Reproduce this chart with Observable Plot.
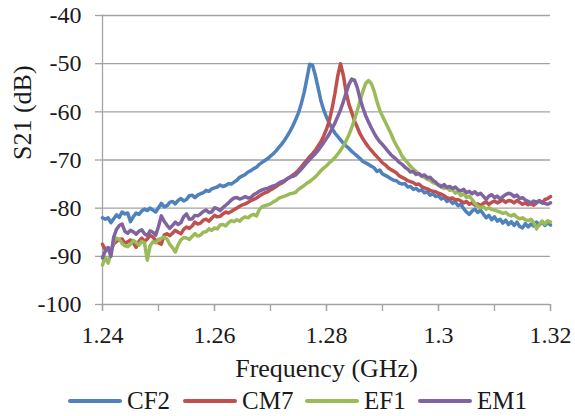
<!DOCTYPE html>
<html>
<head>
<meta charset="utf-8">
<script src="https://cdn.jsdelivr.net/npm/d3@7"></script>
<script src="https://cdn.jsdelivr.net/npm/@observablehq/plot@0.6"></script>
<style>
  html, body { margin: 0; padding: 0; background: #fff; }
  #wrap { width: 575px; height: 416px; position: relative; font-family: "Liberation Serif", "Times New Roman", serif; color: #1a1a1a; }
  #legend { position: relative; height: 31px; font-size: 25px; }
  .item { position: absolute; top: 0; height: 31px; display: flex; align-items: center; }
  .item svg { margin-right: 5px; }
</style>
</head>
<body>
<div id="wrap"><div id="chart"></div><div id="legend"></div></div>
<script>
const freq = [
1.24,1.2405,1.241,1.2415,1.242,1.2425,1.243,1.2435,1.244,1.2445,
1.245,1.2455,1.246,1.2465,1.247,1.2475,1.248,1.2485,1.249,1.2495,
1.25,1.2505,1.251,1.2515,1.252,1.2525,1.253,1.2535,1.254,1.2545,
1.255,1.2555,1.256,1.2565,1.257,1.2575,1.258,1.2585,1.259,1.2595,
1.26,1.2605,1.261,1.2615,1.262,1.2625,1.263,1.2635,1.264,1.2645,
1.265,1.2655,1.266,1.2665,1.267,1.2675,1.268,1.2685,1.269,1.2695,
1.27,1.2705,1.271,1.2715,1.272,1.2725,1.273,1.2735,1.274,1.2745,
1.275,1.2755,1.276,1.2765,1.277,1.2775,1.278,1.2785,1.279,1.2795,
1.28,1.2805,1.281,1.2815,1.282,1.2825,1.283,1.2835,1.284,1.2845,
1.285,1.2855,1.286,1.2865,1.287,1.2875,1.288,1.2885,1.289,1.2895,
1.29,1.2905,1.291,1.2915,1.292,1.2925,1.293,1.2935,1.294,1.2945,
1.295,1.2955,1.296,1.2965,1.297,1.2975,1.298,1.2985,1.299,1.2995,
1.3,1.3005,1.301,1.3015,1.302,1.3025,1.303,1.3035,1.304,1.3045,
1.305,1.3055,1.306,1.3065,1.307,1.3075,1.308,1.3085,1.309,1.3095,
1.31,1.3105,1.311,1.3115,1.312,1.3125,1.313,1.3135,1.314,1.3145,
1.315,1.3155,1.316,1.3165,1.317,1.3175,1.318,1.3185,1.319,1.3195,
1.32];

const cf2 = [
-82.0,-82.3,-82.0,-83.0,-82.2,-81.4,-81.9,-80.8,-81.2,-81.0,
-82.8,-81.8,-81.0,-81.3,-80.6,-80.2,-80.5,-80.0,-80.4,-80.8,
-79.9,-79.0,-79.7,-79.5,-78.8,-78.6,-79.1,-78.4,-78.0,-78.5,
-78.2,-77.4,-77.3,-77.8,-77.3,-77.0,-76.8,-76.3,-76.5,-76.0,
-75.8,-75.6,-75.2,-75.5,-75.3,-74.9,-75.0,-74.6,-74.2,-73.6,
-73.3,-73.0,-72.5,-72.2,-71.8,-71.5,-70.9,-70.5,-70.1,-69.7,
-69.2,-68.7,-68.1,-67.4,-66.7,-65.9,-65.0,-64.0,-62.9,-61.6,
-60.2,-58.3,-56.0,-53.1,-50.1,-50.3,-52.4,-55.0,-57.7,-59.6,
-61.1,-62.3,-63.5,-64.4,-65.1,-65.8,-66.5,-67.1,-67.6,-68.2,
-68.7,-69.2,-69.7,-70.3,-70.6,-70.9,-71.3,-71.6,-72.4,-72.1,
-72.9,-73.2,-73.5,-73.9,-74.2,-74.3,-74.8,-75.0,-74.9,-75.6,
-75.5,-76.1,-75.9,-76.4,-76.2,-76.8,-76.6,-77.3,-77.0,-77.6,
-77.4,-78.1,-77.8,-78.6,-78.3,-79.0,-78.7,-79.5,-79.2,-80.1,
-80.8,-81.3,-80.6,-80.2,-80.9,-80.4,-81.2,-82.0,-81.5,-82.4,
-81.8,-82.7,-82.3,-83.1,-82.5,-83.4,-82.8,-83.6,-82.9,-83.8,
-84.1,-83.2,-83.9,-83.3,-83.7,-82.9,-83.5,-82.8,-83.6,-83.0,
-83.5];

const cm7 = [
-87.5,-88.6,-88.2,-88.9,-87.4,-86.9,-86.5,-86.4,-87.3,-87.0,
-86.6,-87.2,-88.1,-86.9,-86.2,-86.9,-86.4,-85.6,-86.0,-86.7,
-87.2,-87.5,-85.6,-85.3,-85.7,-85.2,-84.6,-85.0,-85.3,-84.4,
-83.9,-84.2,-83.7,-82.9,-83.3,-83.1,-82.5,-82.3,-82.7,-82.1,
-81.5,-81.8,-81.7,-81.2,-80.8,-81.0,-80.7,-80.3,-80.0,-79.6,
-79.3,-79.1,-78.8,-78.4,-78.2,-77.9,-77.5,-77.1,-76.8,-76.6,
-76.2,-75.9,-75.5,-75.1,-74.8,-74.4,-73.9,-73.6,-73.1,-72.7,
-72.1,-71.4,-70.7,-70.0,-69.3,-68.7,-68.0,-67.1,-66.2,-65.0,
-63.6,-61.8,-59.3,-56.2,-52.6,-50.0,-52.4,-55.9,-58.4,-60.1,
-61.9,-63.2,-64.6,-65.6,-66.5,-67.3,-68.0,-68.7,-69.3,-69.9,
-70.6,-71.0,-71.6,-72.0,-72.3,-72.7,-73.3,-73.6,-73.9,-74.3,
-74.5,-74.7,-75.1,-75.0,-75.5,-75.8,-76.0,-76.3,-76.5,-76.6,
-76.9,-77.1,-77.4,-77.8,-78.0,-77.9,-78.3,-78.2,-78.5,-78.9,
-78.6,-79.2,-78.9,-79.4,-79.1,-79.5,-79.0,-78.7,-79.2,-78.8,
-78.5,-78.9,-78.6,-78.3,-78.8,-78.4,-78.5,-78.9,-78.4,-78.8,
-79.2,-78.9,-79.3,-79.0,-79.4,-78.9,-78.5,-78.9,-78.2,-78.0,
-77.6];

const ef1 = [
-91.8,-90.2,-91.4,-89.5,-86.8,-86.2,-86.5,-87.3,-87.8,-88.0,
-87.5,-86.7,-87.1,-87.7,-86.9,-87.2,-90.8,-87.8,-87.0,-87.2,
-86.5,-86.3,-86.0,-86.4,-87.5,-88.2,-89.1,-87.6,-86.6,-86.1,
-86.2,-86.5,-85.9,-85.3,-85.8,-85.6,-85.0,-84.9,-84.3,-84.6,
-84.1,-84.3,-83.5,-83.4,-83.7,-83.0,-82.6,-82.8,-82.4,-82.7,
-82.1,-81.8,-82.0,-81.5,-81.3,-81.6,-80.3,-79.7,-79.5,-79.3,
-79.1,-78.7,-78.4,-77.9,-77.7,-77.5,-77.3,-77.0,-76.9,-76.7,
-76.1,-75.7,-75.3,-74.8,-74.5,-74.0,-73.5,-72.9,-72.2,-71.7,
-71.2,-70.6,-70.1,-69.5,-68.8,-68.0,-67.1,-66.0,-64.8,-63.3,
-61.6,-59.7,-57.7,-55.7,-54.1,-53.5,-54.1,-55.7,-57.8,-59.6,
-60.9,-62.1,-63.3,-64.5,-65.9,-67.0,-68.0,-69.2,-69.9,-70.6,
-71.3,-71.9,-72.4,-72.9,-73.4,-73.6,-74.0,-74.2,-74.7,-74.9,
-75.2,-75.3,-75.9,-75.7,-76.3,-76.1,-76.9,-76.6,-77.4,-77.0,
-77.8,-77.5,-78.2,-79.0,-79.6,-79.9,-79.7,-80.2,-79.9,-80.3,
-80.4,-80.6,-80.8,-81.1,-80.9,-81.4,-81.6,-81.3,-81.9,-82.2,
-82.0,-82.4,-82.6,-82.3,-83.0,-84.3,-83.4,-82.7,-83.3,-82.6,
-82.9];

const em1 = [
-90.3,-88.9,-88.2,-90.0,-86.0,-84.4,-83.6,-83.3,-84.8,-85.2,
-84.6,-84.9,-85.4,-84.8,-84.5,-85.3,-85.7,-84.7,-85.0,-85.6,
-83.8,-81.6,-82.7,-83.5,-84.2,-83.6,-82.9,-83.4,-83.0,-81.8,
-81.2,-82.3,-82.2,-81.5,-81.6,-81.2,-80.7,-80.4,-80.9,-80.8,
-79.9,-80.1,-80.5,-79.9,-79.4,-78.9,-78.3,-77.9,-77.8,-78.1,
-77.9,-77.6,-77.9,-77.8,-77.2,-76.9,-76.5,-76.2,-76.0,-75.9,
-75.6,-75.4,-75.2,-74.8,-74.5,-74.3,-73.9,-73.5,-73.4,-73.1,
-72.5,-71.9,-71.2,-70.5,-69.9,-69.3,-68.7,-68.0,-67.2,-66.4,
-65.5,-64.6,-63.5,-62.3,-61.0,-59.6,-57.9,-56.1,-54.3,-53.2,
-53.4,-55.0,-57.3,-59.2,-60.8,-62.1,-63.3,-64.4,-65.4,-66.2,
-66.8,-67.5,-68.2,-68.9,-69.4,-69.9,-70.5,-70.9,-71.5,-71.9,
-72.5,-72.4,-73.0,-72.8,-73.3,-73.1,-73.7,-73.6,-74.2,-74.6,
-75.2,-75.6,-75.1,-75.7,-75.5,-75.9,-75.6,-76.2,-76.4,-76.1,
-76.8,-76.5,-77.0,-76.6,-77.2,-76.9,-77.5,-78.2,-77.5,-77.2,
-77.8,-77.5,-78.1,-77.6,-77.2,-76.9,-77.1,-77.6,-77.3,-78.0,
-77.8,-78.3,-78.6,-78.9,-78.5,-78.8,-78.4,-78.9,-79.0,-79.2,
-78.9];

const seriesNames = ["CF2", "CM7", "EF1", "EM1"];
const seriesColors = ["#4F81BD", "#C0504D", "#9BBB59", "#8064A2"];
const seriesValues = [cf2, cm7, ef1, em1];

const yTicks = [-100, -90, -80, -70, -60, -50, -40];
const xTicks = [1.24, 1.25, 1.26, 1.27, 1.28, 1.29, 1.30, 1.31, 1.32];
const xLabelTicks = [1.24, 1.26, 1.28, 1.30, 1.32];
const xTickLabels = ["1.24", "1.26", "1.28", "1.3", "1.32"];
const xTitle = "Frequency (GHz)";
const yTitle = "S21 (dB)";

const data = seriesNames.flatMap((name, k) =>
  freq.map((f, i) => ({f, v: seriesValues[k][i], name})));

const gridColor = "#a3a3a3";
const serif = "'Liberation Serif', 'Times New Roman', serif";

const chart = Plot.plot({
  width: 575,
  height: 385,
  marginLeft: 102,
  marginRight: 25,
  marginTop: 15,
  marginBottom: 81,
  style: {fontFamily: serif, fontSize: "24px", color: "#1a1a1a", background: "#fff", overflow: "visible"},
  x: {domain: [1.24, 1.32]},
  y: {domain: [-100, -40]},
  color: {domain: seriesNames, range: seriesColors},
  marks: [
    Plot.gridY(yTicks, {stroke: gridColor, strokeOpacity: 1, strokeWidth: 1.3}),
    Plot.frame({anchor: "left", stroke: gridColor, strokeWidth: 1.3}),
    Plot.axisY(yTicks, {tickSize: 7, tickPadding: 14, stroke: gridColor, strokeWidth: 1.3,
      tickFormat: d => String(d), label: null}),
    Plot.axisX(xTicks, {tickSize: 7, stroke: gridColor, strokeWidth: 1.3, tickFormat: () => "", label: null}),
    Plot.axisX(xLabelTicks, {tickSize: 7, tickPadding: 14, stroke: gridColor, strokeWidth: 1.3,
      tickFormat: d => xTickLabels[xLabelTicks.indexOf(d)], label: null}),
    Plot.text([xTitle], {frameAnchor: "bottom", dy: 64, lineAnchor: "middle", fontSize: 26, fill: "#1a1a1a"}),
    Plot.text([yTitle], {frameAnchor: "left", dx: -80, rotate: -90, lineAnchor: "middle", fontSize: 26, fill: "#1a1a1a"}),
    Plot.line(data, {x: "f", y: "v", z: "name", stroke: "name", strokeWidth: 3.5, strokeLinejoin: "round", strokeLinecap: "round"})
  ]
});
document.getElementById("chart").appendChild(chart);

const legendLeft = [68, 183, 305, 418];
const legend = document.getElementById("legend");
seriesNames.forEach((name, k) => {
  const item = document.createElement("div");
  item.className = "item";
  item.style.left = legendLeft[k] + "px";
  item.innerHTML = `<svg width="54" height="8"><line x1="2" x2="52" y1="4" y2="4" stroke="${seriesColors[k]}" stroke-width="4" stroke-linecap="round"/></svg><span>${name}</span>`;
  legend.appendChild(item);
});
</script>
</body>
</html>
